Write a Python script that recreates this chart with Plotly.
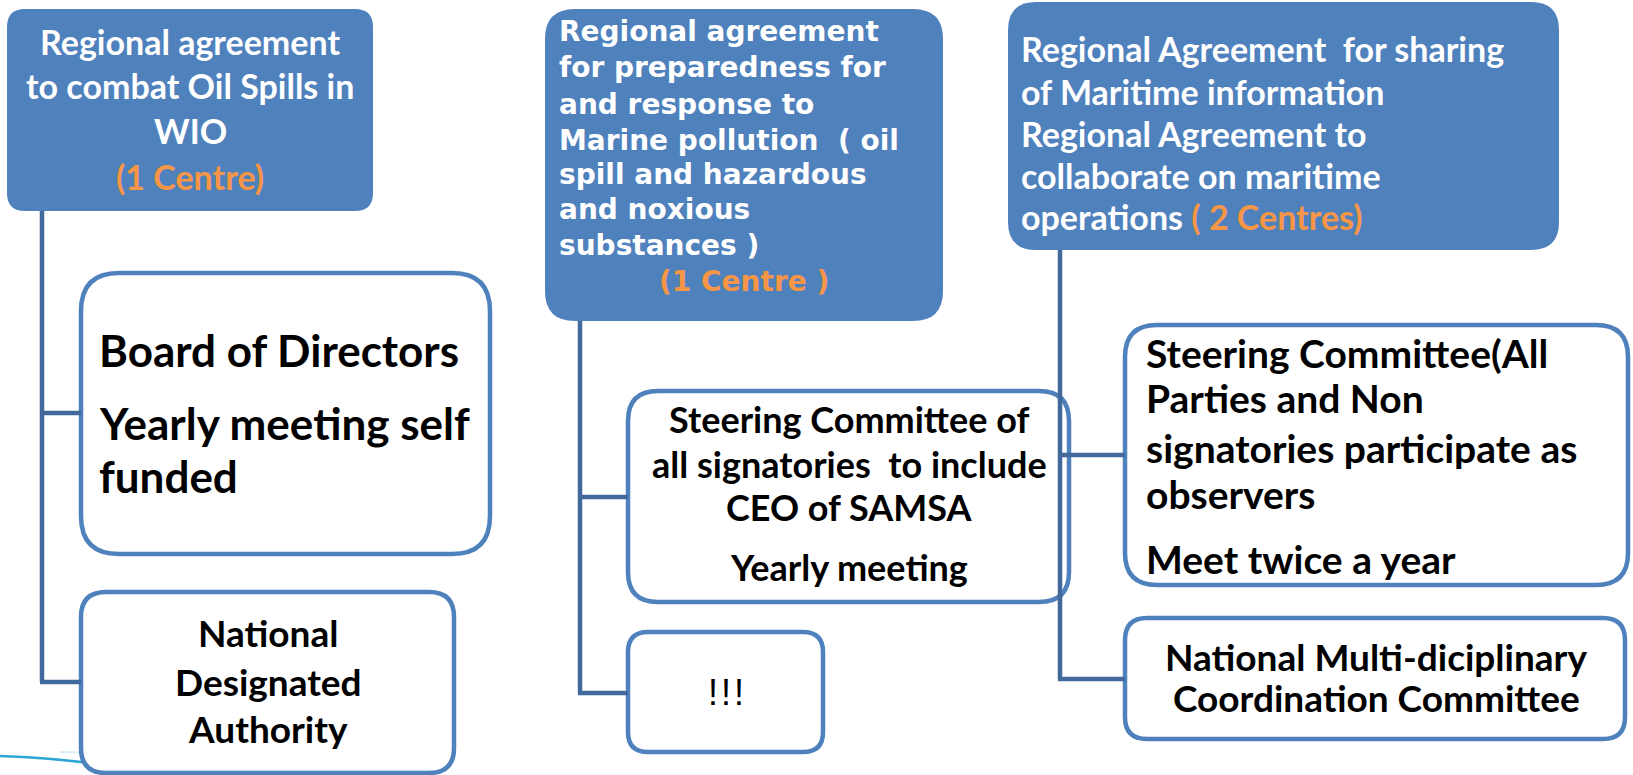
import plotly.graph_objects as go

W, H = 1633, 775
BLUE = "#4f81bd"
LINE = "#41699c"
ORANGE = "#f79646"
NB = "\u00a0"

# ---- text content ----
box1_lines = ["Regional agreement", "to combat Oil Spills in", "WIO", "(1 Centre)"]
box2_lines = ["Board of Directors", "Yearly meeting self", "funded"]
box3_lines = ["National", "Designated", "Authority"]
box4_lines = ["Regional agreement", "for preparedness for", "and response to",
              "Marine pollution" + NB + NB + "( oil", "spill and hazardous",
              "and noxious", "substances )"]
box4_centre = "(1 Centre )"
box5_lines = ["Steering Committee of", "all signatories" + NB + NB + "to include",
              "CEO of SAMSA", "Yearly meeting"]
box6_lines = ["!\u200a!\u200a!"]
box7_lines = ["Regional Agreement" + NB + NB + "for sharing", "of Maritime information",
              "Regional Agreement to", "collaborate on maritime", "operations "]
box7_centre = "( 2 Centres)"
box8_lines = ["Steering Committee(All", "Parties and Non", "signatories participate as",
              "observers", "Meet twice a year"]
box9_lines = ["National Multi-diciplinary", "Coordination Committee"]

# ---- layout geometry (pixels) ----
boxes = [  # x0, y0, x1, y1, radius, filled
    (7, 9, 373, 211, 18, True),
    (81, 273, 490, 554, 38, False),
    (81, 592, 454, 773, 25, False),
    (545, 9, 943, 321, 30, True),
    (628, 391, 1069, 602, 30, False),
    (628, 632, 823, 752, 20, False),
    (1008, 2, 1559, 250, 28, True),
    (1125, 325, 1628, 585, 32, False),
    (1125, 618, 1625, 739, 22, False),
]

connectors = [  # vertical x, top y, bottom y, branch ys, branch end x
    (42, 211, 682, [413, 682], 81),
    (580, 321, 693, [497, 693], 628),
    (1060, 250, 679, [455, 679], 1125),
]


def rounded(x0, y0, x1, y1, r):
    return (f"M {x0+r},{y0} L {x1-r},{y0} Q {x1},{y0} {x1},{y0+r} "
            f"L {x1},{y1-r} Q {x1},{y1} {x1-r},{y1} L {x0+r},{y1} "
            f"Q {x0},{y1} {x0},{y1-r} L {x0},{y0+r} Q {x0},{y0} {x0+r},{y0} Z")


fig = go.Figure()
shapes = []

# decorative faint lines bottom-left
shapes.append(dict(type="path", path="M 0,756 Q 60,758 110,766", line=dict(color="#2aa7d4", width=2.5), layer="below"))
shapes.append(dict(type="path", path="M 60,752 Q 250,756 430,770", line=dict(color="#d8eef6", width=2), layer="below"))

for (x0, y0, x1, y1, r, filled) in boxes:
    shapes.append(dict(type="path", path=rounded(x0, y0, x1, y1, r),
                       fillcolor=BLUE if filled else "white",
                       line=dict(color=BLUE, width=0 if filled else 4.5),
                       layer="above"))

for (vx, ty, by, branches, ex) in connectors:
    shapes.append(dict(type="line", x0=vx, x1=vx, y0=ty, y1=by,
                       line=dict(color=LINE, width=4.5), layer="above"))
    for yb in branches:
        shapes.append(dict(type="line", x0=vx - 2, x1=ex, y0=yb, y1=yb,
                           line=dict(color=LINE, width=4.5), layer="above"))

annotations = []


def add_lines(lines, ys, x, anchor, family, size, color, weight="bold"):
    for t, y in zip(lines, ys):
        annotations.append(dict(x=x, y=y, text=t, showarrow=False, xanchor=anchor, yanchor="middle",
                                font=dict(family=family, size=size, color=color, weight=weight)))


CAL = "Lato"
add_lines(box1_lines[:3], [41, 85, 130], 190, "center", CAL, 34, "white")
add_lines(box1_lines[3:], [176], 190, "center", CAL, 34, ORANGE)
add_lines(box2_lines, [350, 423, 476], 97, "left", CAL, 44, "black")
add_lines(box3_lines, [632, 681, 728], 268, "center", CAL, 37, "black")
add_lines(box4_lines, [31, 67, 104, 140, 174, 209, 245], 557, "left", "DejaVu Sans", 28, "white")
add_lines([box4_centre], [281], 744, "center", "DejaVu Sans", 28, ORANGE)
add_lines(box5_lines, [419, 464, 507, 567], 849, "center", CAL, 36, "black")
add_lines(box6_lines, [692], 726, "center", "Liberation Sans", 36, "black", weight="normal")
add_lines(box7_lines[:4], [48, 91, 133, 175], 1019, "left", CAL, 34, "white")
add_lines([box7_lines[4] + f"<span style='color:{ORANGE}'>{box7_centre}</span>"], [216], 1019, "left", CAL, 34, "white")
add_lines(box8_lines, [353, 398, 448, 494, 559], 1144, "left", CAL, 39, "black")
add_lines(box9_lines, [656, 697], 1376, "center", CAL, 37, "black")

fig.update_layout(
    width=W, height=H, margin=dict(l=0, r=0, t=0, b=0),
    paper_bgcolor="white", plot_bgcolor="white",
    xaxis=dict(range=[0, W], visible=False, fixedrange=True),
    yaxis=dict(range=[H, 0], visible=False, fixedrange=True),
    shapes=shapes, annotations=annotations, showlegend=False,
)
fig.write_html("out.html", config={"displayModeBar": False},
               post_script="document.body.style.margin='0';document.body.style.overflow='hidden';")
